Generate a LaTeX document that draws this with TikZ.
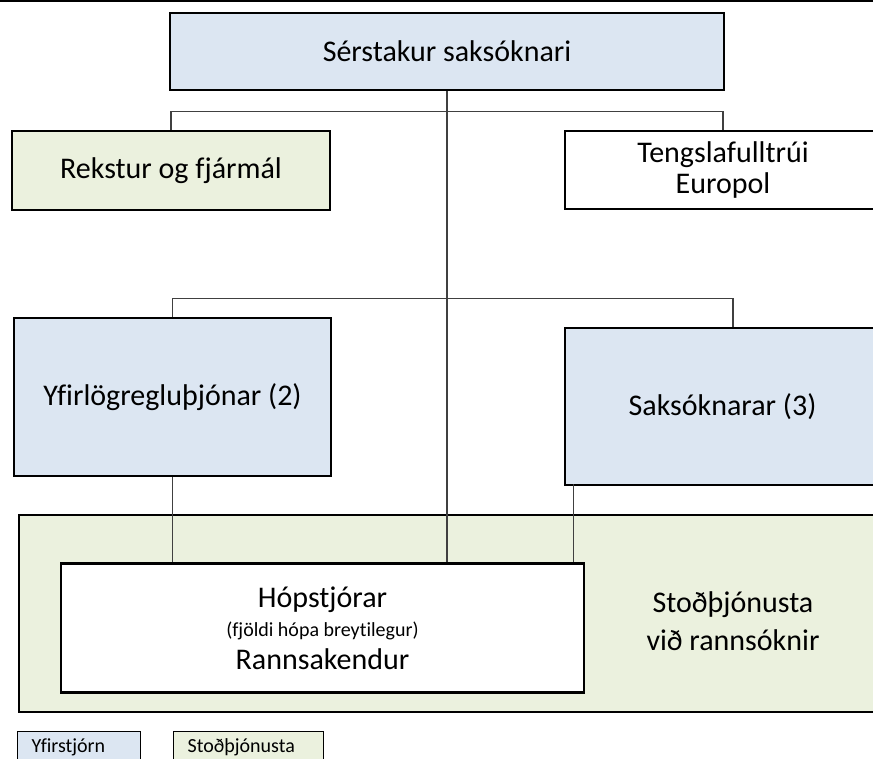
\documentclass[tikz,border=0pt]{standalone}
\usepackage{fontspec}
\setmainfont{Carlito}[Ligatures=CommonOff]
\usepackage{tikz}
\usetikzlibrary{arrows,shapes,positioning}
\definecolor{boxblue}{RGB}{220,230,242}
\definecolor{boxgreen}{RGB}{235,241,222}
\definecolor{linegray}{RGB}{64,64,64}
\tikzset{
  orgbox/.style={draw=black, line width=2.5pt, inner sep=0pt, align=center, font=\fontsize{30}{31}\selectfont},
  legbox/.style={draw=black, line width=1.3pt, anchor=north west, inner sep=0pt, inner xsep=14pt, align=left, font=\fontsize{20}{24}\selectfont},
  conn/.style={draw=linegray, line width=1.1pt}
}

\begin{document}
\begin{tikzpicture}[x=1pt,y=1pt,yscale=-1,xscale=1]
\path[use as bounding box] (0,0) rectangle (873,758);

%rule along the top
\draw[line width=2.5pt] (0,1) -- (873,1);

%support area behind the groups
\node[orgbox, fill=boxgreen, minimum width=876pt, minimum height=197pt] (stod) at (457,613.5) {};
\node[font=\fontsize{30}{38}\selectfont, align=center] (stodlbl) at (733,621) {Stoðþjónusta\\við rannsóknir};

%boxes
\node[orgbox, fill=boxblue, minimum width=554pt, minimum height=77pt] (chief) at (447,51.5) {Sérstakur saksóknari};
\node[orgbox, fill=boxgreen, minimum width=318pt, minimum height=79pt] (rek) at (171,170.5) {Rekstur og fjármál};
\node[orgbox, fill=white, minimum width=316pt, minimum height=78pt] (teng) at (723,170) {Tengslafulltrúi\\Europol};
\node[orgbox, fill=boxblue, minimum width=317pt, minimum height=158pt] (yfir) at (172.5,397) {Yfirlögregluþjónar (2)};
\node[orgbox, fill=boxblue, minimum width=315pt, minimum height=157pt] (sak) at (722.5,406.5) {Saksóknarar (3)};
\node[orgbox, fill=white, minimum width=523pt, minimum height=129pt, font=\fontsize{30}{33}\selectfont] (hop) at (322.5,628) {Hópstjórar\\[-4pt]{\fontsize{20}{24}\selectfont (fjöldi hópa breytilegur)}\\[0pt]Rannsakendur};

%lines
\draw[conn] (chief.south) -- (chief.south |- hop.north);
\draw[conn] (rek.north) -- ++(0,-18) -| (teng.north);
\draw[conn] (yfir.north) -- ++(0,-18) -| ([xshift=10.5pt]sak.north);
\draw[conn] (yfir.south) -- (yfir.south |- hop.north);
\draw[conn] ([xshift=10pt,yshift=-2pt]sak.south west) -- ([xshift=10pt]sak.south west |- hop.north);

%legend (cut by the lower edge)
\node[legbox, fill=boxblue, text width=95pt, minimum height=32pt] (legchief) at (17,731) {Yfirstjórn};
\node[legbox, fill=boxgreen, text width=122pt, minimum height=32pt] (legstod) at (173,731) {Stoðþjónusta};

\end{tikzpicture}
\end{document}
